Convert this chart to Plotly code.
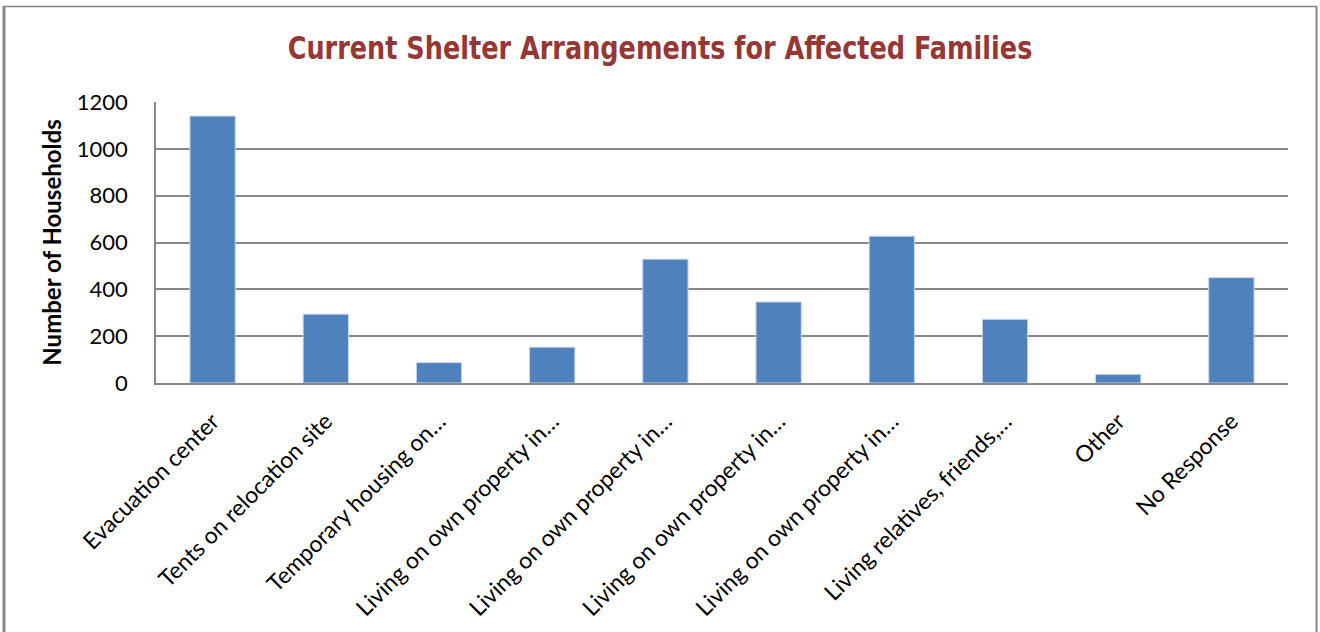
import plotly.graph_objects as go

# Shelter survey results (labels truncated as shown on the axis)
categories = [
    "Evacuation center",
    "Tents on relocation site",
    "Temporary housing on…",
    "Living on own property in…",
    "Living on own property in…",
    "Living on own property in…",
    "Living on own property in…",
    "Living relatives, friends,…",
    "Other",
    "No Response",
]
households = [1140, 294, 87, 153, 529, 346, 627, 272, 37, 450]
y_ticks = [0, 200, 400, 600, 800, 1000, 1200]

W, H = 1320, 632
M_L, M_R, M_T, M_B = 156, 32, 102, 249
LABEL_FONT = "Lato, Carlito, Calibri, sans-serif"

positions = list(range(len(categories)))

fig = go.Figure(
    go.Bar(
        x=positions,
        y=households,
        customdata=categories,
        hovertemplate="%{customdata}: %{y}<extra></extra>",
        marker=dict(color="#4F81BD", line=dict(color="#C5D5EA", width=1)),
        width=0.4,
    )
)

plot_w = W - M_L - M_R
plot_h = H - M_T - M_B

def px_x(px):
    return (px - M_L) / plot_w

def px_y(py):
    return (H - M_B - py) / plot_h

fig.update_layout(
    width=W,
    height=H,
    margin=dict(l=M_L, r=M_R, t=M_T, b=M_B, autoexpand=False),
    paper_bgcolor="white",
    plot_bgcolor="white",
    showlegend=False,
    title=dict(
        text="<b>Current Shelter Arrangements for Affected Families</b>",
        font=dict(family="DejaVu Sans Condensed, Liberation Sans Narrow, sans-serif",
                  size=32, color="#953735"),
        x=0.5,
        xanchor="center",
        xref="container",
        y=1 - 48 / H,
        yanchor="middle",
    ),
    font=dict(family=LABEL_FONT, size=22, color="black"),
    shapes=[
        # outer chart frame (left, top, right edges)
        dict(type="line", xref="paper", yref="paper",
             x0=px_x(4), x1=px_x(4), y0=px_y(H + 5), y1=px_y(6),
             line=dict(color="#878787", width=3)),
        dict(type="line", xref="paper", yref="paper",
             x0=px_x(3), x1=px_x(1317), y0=px_y(6.5), y1=px_y(6.5),
             line=dict(color="#878787", width=1.5)),
        dict(type="line", xref="paper", yref="paper",
             x0=px_x(1316.5), x1=px_x(1316.5), y0=px_y(H + 5), y1=px_y(6),
             line=dict(color="#878787", width=2)),
    ],
)

fig.update_xaxes(
    range=[-0.5, len(categories) - 0.5],
    tickvals=positions,
    ticktext=categories,
    tickangle=-45,
    automargin=False,
    showgrid=False,
    zeroline=False,
    showline=True,
    linecolor="#878787",
    linewidth=1.5,
    ticks="",
    ticklabelstandoff=14,
    tickfont=dict(family=LABEL_FONT, size=23, color="black"),
)

fig.update_yaxes(
    range=[0, 1200],
    automargin=False,
    tickvals=y_ticks,
    ticktext=[str(v) for v in y_ticks],
    showgrid=True,
    gridcolor="#878787",
    gridwidth=1.5,
    showline=True,
    linecolor="#878787",
    linewidth=1.5,
    zeroline=False,
    ticks="",
    ticklabelstandoff=22,
    tickfont=dict(family=LABEL_FONT, size=22, color="black"),
    title=dict(
        text="<b>Number of Households</b>",
        font=dict(family=LABEL_FONT, size=24, color="black"),
        standoff=8,
    ),
)

# Condense the title horizontally (narrow typeface look), keeping it centred
narrow_title = """
var gd = document.getElementById('{plot_id}');
var t = gd.querySelector('.gtitle');
if (t) {
  var b = t.getBBox();
  var cx = b.x + b.width / 2;
  var k = 745 / b.width;
  t.setAttribute('transform',
    'translate(' + cx + ',0) scale(' + k + ',1) translate(' + (-cx) + ',0)');
}
"""

fig.write_html("out.html", post_script=narrow_title)
